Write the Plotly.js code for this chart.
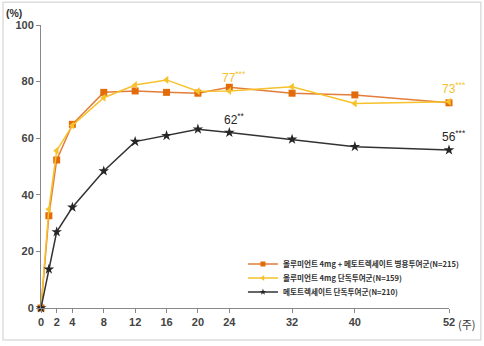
<!DOCTYPE html>
<html><head><meta charset="utf-8">
<script src="https://cdn.plot.ly/plotly-3.0.1.min.js"></script>
<style>body{margin:0;background:#fff}#chart{width:484px;height:346px}</style>
</head><body><div id="chart"></div>
<script>
const weeks = [0, 1, 2, 4, 8, 12, 16, 20, 24, 32, 40, 52];
const comboValues = [0, 32.6, 52.3, 64.9, 76.2, 76.7, 76.2, 75.9, 78.0, 75.9, 75.3, 72.5];
const monoValues = [0, 34.9, 55.6, 64.5, 74.3, 78.8, 80.6, 76.6, 76.7, 78.2, 72.3, 72.9];
const mtxValues = [0, 13.7, 26.9, 35.6, 48.4, 58.8, 60.9, 63.2, 62.0, 59.6, 57.0, 55.8];
const tickWeeks = [0, 2, 4, 8, 12, 16, 20, 24, 32, 40, 52];
const yTicks = [0, 20, 40, 60, 80, 100];
const seriesNames = [
  '올루미언트 4mg + 메토트렉세이트 병용투여군(N=215)',
  '올루미언트 4mg 단독투여군(N=159)',
  '메토트렉세이트 단독투여군(N=210)'
];
const labelTexts = ['77<sup>***</sup>', '73<sup>***</sup>', '62<sup>**</sup>', '56<sup>***</sup>'];
const labelWeeks = [24, 52, 24, 52];
const labelValues = [76.7, 72.9, 62.0, 55.8];

const ORANGE = '#e36c0a', YELLOW = '#f6c12a', BLACK = '#262626';
const font = 'Liberation Sans, Arial, sans-serif';
const kfont = 'Noto Sans CJK KR, sans-serif';

const colors = [ORANGE, YELLOW, BLACK];
const lineColors = ['#e27d3a', YELLOW, '#333333'];
const symbols = ['square', 'triangle-left', 'star'];
const sizes = [7, 7, 8];
const valueSets = [comboValues, monoValues, mtxValues];
const legendIds = ['legend', 'legend2', 'legend3'];

const traces = [];
valueSets.forEach((vals, i) => {
  traces.push({x: weeks, y: vals, name: seriesNames[i], mode: 'lines+markers', showlegend: false,
    line: {color: lineColors[i], width: 1.5},
    marker: {symbol: symbols[i], size: sizes[i], color: colors[i]}, cliponaxis: false});
});
// legend entries (smaller symbols as in reference)
valueSets.forEach((vals, i) => {
  traces.push({x: [null], y: [null], name: seriesNames[i], mode: 'lines+markers', legend: legendIds[i],
    line: {color: lineColors[i], width: 1.3},
    marker: {symbol: symbols[i], size: 5, color: colors[i]}});
});

const labelColors = [YELLOW, YELLOW, BLACK, BLACK];
const annotations = labelTexts.map((t, i) => ({
  x: labelWeeks[i], y: labelValues[i], xref: 'x', yref: 'y', text: t, showarrow: false,
  yshift: 14, xshift: 5, font: {family: font, size: 12, color: labelColors[i]}
}));
annotations.push({x: -0.065, y: 1.041, xref: 'paper', yref: 'paper', xanchor: 'center', yanchor: 'middle',
  text: '<b>(%)</b>', showarrow: false, font: {family: font, size: 10.5, color: '#333'}});
annotations.push({x: 1.0, y: 0, xref: 'paper', yref: 'paper', xanchor: 'left', yanchor: 'middle', yshift: -16, xshift: 7,
  text: '(주)', showarrow: false, font: {family: kfont, size: 11, color: '#333'}});

const legendBase = {x: 0.495, xanchor: 'left', yanchor: 'middle', bgcolor: 'rgba(0,0,0,0)',
  font: {family: kfont, size: 7.6, color: '#333', weight: 'bold'}, itemwidth: 30};
const legendY = [0.1555, 0.106, 0.0565];

const layout = {
  width: 484, height: 346,
  margin: {l: 41, r: 35, t: 25, b: 38},
  paper_bgcolor: '#fff', plot_bgcolor: '#fff',
  showlegend: true,
  legend: Object.assign({}, legendBase, {y: legendY[0]}),
  legend2: Object.assign({}, legendBase, {y: legendY[1]}),
  legend3: Object.assign({}, legendBase, {y: legendY[2]}),
  xaxis: {range: [0, 52], tickmode: 'array', tickvals: tickWeeks, showgrid: false, zeroline: false,
    showline: true, linecolor: '#888', linewidth: 1, ticks: 'outside', ticklen: 4, tickcolor: '#888',
    tickfont: {family: font, size: 11, color: '#444', weight: 'bold'}},
  yaxis: {range: [0, 100], tickmode: 'array', tickvals: yTicks, showgrid: false, zeroline: false,
    showline: true, linecolor: '#888', linewidth: 1, ticks: 'outside', ticklen: 4, tickcolor: '#888',
    tickfont: {family: font, size: 11, color: '#444', weight: 'bold'}},
  annotations: annotations,
  shapes: [{type: 'rect', xref: 'paper', yref: 'paper', x0: -0.093, x1: 1.078, y0: -0.113, y1: 1.08,
    line: {color: '#dddddd', width: 1.5}, layer: 'below'}]
};

Plotly.newPlot('chart', traces, layout, {staticPlot: true, displayModeBar: false});
</script></body></html>
